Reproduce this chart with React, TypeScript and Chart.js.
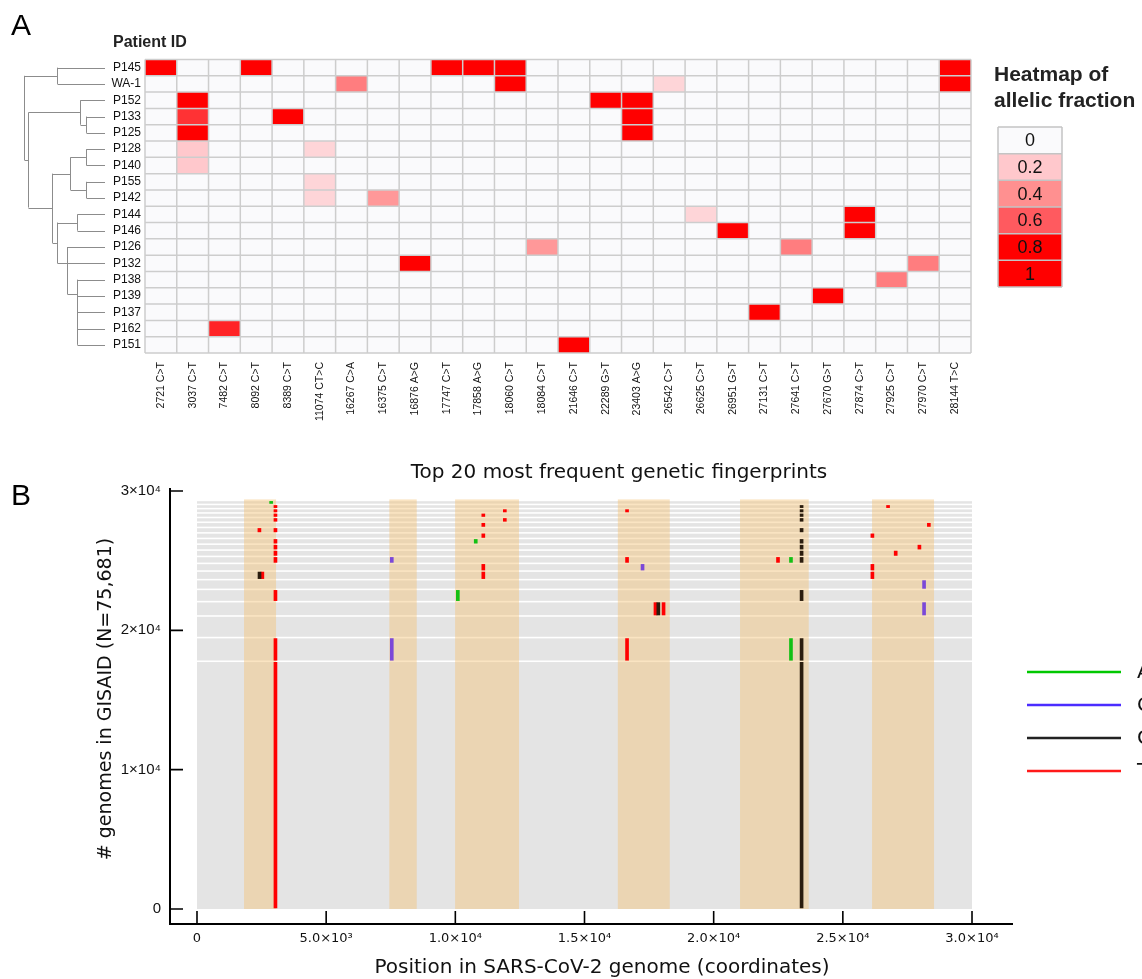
import React, { useEffect, useRef } from 'react';
import { Chart, registerables } from 'chart.js';

Chart.register(...registerables);

// ---------------- Panel A data ----------------
const patients = ['P145', 'WA-1', 'P152', 'P133', 'P125', 'P128', 'P140', 'P155', 'P142', 'P144', 'P146', 'P126', 'P132', 'P138', 'P139', 'P137', 'P162', 'P151'];
const mutations = ['2721 C>T', '3037 C>T', '7482 C>T', '8092 C>T', '8389 C>T', '11074 CT>C', '16267 C>A', '16375 C>T', '16876 A>G', '17747 C>T', '17858 A>G', '18060 C>T', '18084 C>T', '21646 C>T', '22289 G>T', '23403 A>G', '26542 C>T', '26625 C>T', '26951 G>T', '27131 C>T', '27641 C>T', '27670 G>T', '27874 C>T', '27925 C>T', '27970 C>T', '28144 T>C'];

// [patient, mutation, allelic fraction]
const allelicFractions: [string, string, number][] = [
  ['P145', '2721 C>T', 1], ['P145', '8092 C>T', 1], ['P145', '17747 C>T', 1], ['P145', '17858 A>G', 1], ['P145', '18060 C>T', 1], ['P145', '28144 T>C', 1],
  ['WA-1', '16267 C>A', 0.47], ['WA-1', '18060 C>T', 1], ['WA-1', '26542 C>T', 0.15], ['WA-1', '28144 T>C', 1],
  ['P152', '3037 C>T', 1], ['P152', '22289 G>T', 1], ['P152', '23403 A>G', 1],
  ['P133', '3037 C>T', 0.69], ['P133', '8389 C>T', 1], ['P133', '23403 A>G', 1],
  ['P125', '3037 C>T', 1], ['P125', '23403 A>G', 1],
  ['P128', '3037 C>T', 0.2], ['P128', '11074 CT>C', 0.15],
  ['P140', '3037 C>T', 0.2],
  ['P155', '11074 CT>C', 0.15],
  ['P142', '11074 CT>C', 0.15], ['P142', '16375 C>T', 0.37],
  ['P144', '26625 C>T', 0.15], ['P144', '27874 C>T', 1],
  ['P146', '26951 G>T', 1], ['P146', '27874 C>T', 1],
  ['P126', '18084 C>T', 0.37], ['P126', '27641 C>T', 0.47],
  ['P132', '16876 A>G', 1], ['P132', '27970 C>T', 0.47],
  ['P138', '27925 C>T', 0.47],
  ['P139', '27670 G>T', 1],
  ['P137', '27131 C>T', 1],
  ['P162', '7482 C>T', 0.72],
  ['P151', '21646 C>T', 1],
];

const legendValues = [0, 0.2, 0.4, 0.6, 0.8, 1];
const legendLabels = ['0', '0.2', '0.4', '0.6', '0.8', '1'];
const legendColors = ['#fafafc', '#ffc8cc', '#ff9090', '#ff5a5f', '#ff0000', '#ff0000'];

// dendrogram: vertical links [height, fromRow, toRow]; horizontal links [row, fromHeight, toHeight]
const dendroVertical: [number, number, number][] = [
  [0.593, 0, 1], [1.0, 0.5, 5.67], [0.95, 2.75, 8.58], [0.235, 3, 4], [0.309, 2, 3.5],
  [0.654, 6.5, 10.75], [0.235, 5, 6], [0.235, 7, 8], [0.432, 5.5, 7.5], [0.346, 9, 10],
  [0.593, 9.5, 12], [0.469, 11, 13.9], [0.346, 13, 17],
];
const dendroHorizontal: [number, number, number][] = [
  [0, 0, 0.593], [1, 0, 0.593], [2, 0, 0.309], [3, 0, 0.235], [4, 0, 0.235], [5, 0, 0.235],
  [6, 0, 0.235], [7, 0, 0.235], [8, 0, 0.235], [9, 0, 0.346], [10, 0, 0.346], [11, 0, 0.469],
  [12, 0, 0.593], [13, 0, 0.346], [14, 0, 0.346], [15, 0, 0.346], [16, 0, 0.346], [17, 0, 0.346],
  [0.5, 0.593, 1.0], [5.67, 0.95, 1.0], [2.75, 0.309, 0.95], [3.5, 0.235, 0.309], [8.58, 0.654, 0.95],
  [6.5, 0.432, 0.654], [5.5, 0.235, 0.432], [7.5, 0.235, 0.432], [10.75, 0.593, 0.654],
  [9.5, 0.346, 0.593], [13.9, 0.346, 0.469],
];

// ---------------- Panel B data ----------------
// genomes per fingerprint, most frequent first (stacked from the bottom)
const fingerprintCounts = [17780, 1700, 1550, 1030, 880, 700, 615, 550, 500, 455, 425, 410, 400, 390, 370, 345, 325, 310, 300, 290];
// mutations per fingerprint: position + new base
const fingerprintMutations: string[][] = [
  ['3037T', '23403G'],
  ['3037T', '7540C', '16647T', '22992A', '23403G'],
  [],
  ['17747T', '17858G', '18060T', '28144C'],
  ['3037T', '10097A', '23403G'],
  ['28144C'],
  ['2420G', '2530T', '11083T', '26144T'],
  ['11083T', '17247C', '26144T'],
  ['3037T', '7540C', '16647T', '22490T', '22992A', '23403G'],
  ['3037T', '23403G', '27046T'],
  ['3037T', '23403G', '27964T'],
  ['3037T', '10790A', '23403G'],
  ['11083T', '26144T'],
  ['2416T', '3037T', '23403G'],
  ['11083T', '28330T'],
  ['3037T', '11916T', '23403G'],
  ['3037T', '11083T', '23403G'],
  ['3037T', '11916T', '16647T', '23403G'],
  ['3037T', '23403G', '26750T'],
  ['2870A'],
];
const geneRegions: [number, number][] = [[1820, 3060], [7445, 8505], [9990, 12465], [16290, 18300], [21020, 23680], [26130, 28530]];
const baseNames = ['A', 'C', 'G', 'T'];
const baseColors = ['#14c014', '#7b48d8', '#2b1d0e', '#ff0000'];
const legendLineColors = ['#00c800', '#4b2cff', '#222222', '#ff1a1a'];
const xTickValues = [0, 5000, 10000, 15000, 20000, 25000, 30000];
const xTickLabels = ['0', '5.0×10³', '1.0×10⁴', '1.5×10⁴', '2.0×10⁴', '2.5×10⁴', '3.0×10⁴'];
const yTickValues = [0, 10000, 20000, 30000];
const yTickLabels = ['0', '1×10⁴', '2×10⁴', '3×10⁴'];

// ---------------- helpers ----------------
const SANS = '"Liberation Sans", Arial, Helvetica, sans-serif';
const DEJAVU = '"DejaVu Sans", "Liberation Sans", sans-serif';

function hexToRgb(hex: string): number[] {
  const n = parseInt(hex.slice(1), 16);
  return [(n >> 16) & 255, (n >> 8) & 255, n & 255];
}
function fractionColor(v: number): string {
  for (let k = 1; k < legendValues.length; k++) {
    if (v <= legendValues[k]) {
      const t = (v - legendValues[k - 1]) / (legendValues[k] - legendValues[k - 1]);
      const a = hexToRgb(legendColors[k - 1]);
      const b = hexToRgb(legendColors[k]);
      return `rgb(${a.map((c, i) => Math.round(c + (b[i] - c) * t)).join(',')})`;
    }
  }
  return legendColors[legendColors.length - 1];
}

function buildMarks(base: string) {
  const pad = 72; // keeps each mark inside its fingerprint band
  const out: { x: number; y: [number, number] }[] = [];
  let cum = 0;
  fingerprintCounts.forEach((count, i) => {
    fingerprintMutations[i].forEach((m) => {
      if (m.slice(-1) === base) {
        out.push({ x: parseInt(m, 10), y: [cum + pad, cum + count - pad] });
      }
    });
    cum += count;
  });
  return out;
}

// ---------------- plugins ----------------
const heatPlugin = {
  id: 'heatPlugin',
  beforeDatasetsDraw(chart: any) {
    const { ctx, scales } = chart;
    const x = scales.x;
    const y = scales.y;
    const cw = x.getPixelForValue(1) - x.getPixelForValue(0);
    const rh = y.getPixelForValue(1) - y.getPixelForValue(0);
    const left = x.getPixelForValue(0) - cw / 2;
    const top = y.getPixelForValue(0) - rh / 2;
    const W = cw * mutations.length;
    const H = rh * patients.length;
    ctx.save();
    ctx.fillStyle = legendColors[0];
    ctx.fillRect(left, top, W, H);
    allelicFractions.forEach(([p, m, v]) => {
      const cx = x.getPixelForValue(mutations.indexOf(m));
      const cy = y.getPixelForValue(patients.indexOf(p));
      ctx.fillStyle = fractionColor(v);
      ctx.fillRect(cx - cw / 2, cy - rh / 2, cw, rh);
    });
    ctx.strokeStyle = '#cdcdcd';
    ctx.lineWidth = 1.5;
    ctx.beginPath();
    for (let i = 0; i <= mutations.length; i++) {
      const px = left + i * cw;
      ctx.moveTo(px, top);
      ctx.lineTo(px, top + H);
    }
    for (let j = 0; j <= patients.length; j++) {
      const py = top + j * rh;
      ctx.moveTo(left, py);
      ctx.lineTo(left + W, py);
    }
    ctx.stroke();

    // dendrogram
    const hx = (h: number) => 105 - h * 81;
    ctx.strokeStyle = '#8c8c8c';
    ctx.lineWidth = 1;
    ctx.beginPath();
    dendroVertical.forEach(([h, r0, r1]) => {
      const px = Math.round(hx(h)) + 0.5;
      ctx.moveTo(px, y.getPixelForValue(r0));
      ctx.lineTo(px, y.getPixelForValue(r1));
    });
    dendroHorizontal.forEach(([r, h0, h1]) => {
      const py = Math.round(y.getPixelForValue(r)) + 0.5;
      ctx.moveTo(hx(h0), py);
      ctx.lineTo(Math.round(hx(h1)) + 0.5, py);
    });
    ctx.stroke();
    ctx.restore();
  },
  afterDraw(chart: any) {
    const { ctx } = chart;
    ctx.save();
    ctx.fillStyle = '#000';
    ctx.textBaseline = 'alphabetic';
    ctx.textAlign = 'left';
    ctx.font = `30px ${SANS}`;
    ctx.fillText('A', 11, 35);
    ctx.fillStyle = '#222';
    ctx.font = `bold 16px ${SANS}`;
    ctx.fillText('Patient ID', 113, 46.5);
    ctx.font = `bold 21px ${SANS}`;
    ctx.fillText('Heatmap of', 994, 81);
    ctx.fillText('allelic fraction', 994, 107);
    // colour legend
    const lx = 998, lw = 64, ly = 127, lh = 26.67;
    legendLabels.forEach((lab, k) => {
      ctx.fillStyle = legendColors[k];
      ctx.fillRect(lx, ly + k * lh, lw, lh);
    });
    ctx.strokeStyle = '#c4c4c4';
    ctx.lineWidth = 1.5;
    ctx.beginPath();
    for (let k = 0; k <= legendLabels.length; k++) {
      ctx.moveTo(lx, ly + k * lh);
      ctx.lineTo(lx + lw, ly + k * lh);
    }
    ctx.moveTo(lx, ly);
    ctx.lineTo(lx, ly + lh * legendLabels.length);
    ctx.moveTo(lx + lw, ly);
    ctx.lineTo(lx + lw, ly + lh * legendLabels.length);
    ctx.stroke();
    ctx.fillStyle = '#111';
    ctx.font = `18px ${SANS}`;
    ctx.textAlign = 'center';
    ctx.textBaseline = 'middle';
    legendLabels.forEach((lab, k) => {
      ctx.fillText(lab, lx + lw / 2, ly + k * lh + lh / 2 + 1);
    });
    ctx.restore();
  },
};

const fingerprintPlugin = {
  id: 'fingerprintPlugin',
  beforeDatasetsDraw(chart: any) {
    const { ctx, scales } = chart;
    const x = scales.x;
    const y = scales.y;
    const xl = x.getPixelForValue(0);
    const xr = x.getPixelForValue(30000);
    ctx.save();
    let cum = 0;
    fingerprintCounts.forEach((c, i) => {
      const yb = y.getPixelForValue(cum);
      const yt = y.getPixelForValue(cum + c);
      const top = yt + 0.8;
      const bottom = i === 0 ? yb : yb - 0.8;
      ctx.fillStyle = '#e4e4e4';
      ctx.fillRect(xl, top, xr - xl, bottom - top);
      cum += c;
    });
    const yTop = y.getPixelForValue(cum) - 1;
    const y0 = y.getPixelForValue(0);
    ctx.fillStyle = 'rgba(245,195,120,0.45)';
    geneRegions.forEach(([a, b]) => {
      const p = x.getPixelForValue(a);
      const q = x.getPixelForValue(b);
      ctx.fillRect(p, yTop, q - p, y0 - yTop);
    });
    ctx.restore();
  },
  afterDraw(chart: any) {
    const { ctx, scales } = chart;
    const x = scales.x;
    const y = scales.y;
    const area = chart.chartArea;
    ctx.save();
    // inward tick marks
    ctx.strokeStyle = '#000';
    ctx.lineWidth = 1.6;
    ctx.beginPath();
    yTickValues.forEach((v) => {
      const py = y.getPixelForValue(v);
      ctx.moveTo(area.left, py);
      ctx.lineTo(area.left + 13, py);
    });
    xTickValues.forEach((v) => {
      const px = x.getPixelForValue(v);
      ctx.moveTo(px, area.bottom);
      ctx.lineTo(px, area.bottom - 13);
    });
    ctx.stroke();

    ctx.fillStyle = '#000';
    ctx.textAlign = 'left';
    ctx.textBaseline = 'alphabetic';
    ctx.font = `30px ${SANS}`;
    ctx.fillText('B', 11, 65);

    ctx.fillStyle = '#111';
    ctx.font = `20px ${DEJAVU}`;
    ctx.textAlign = 'center';
    ctx.fillText('Top 20 most frequent genetic fingerprints', 619, 38);

    ctx.font = `20px ${DEJAVU}`;
    ctx.textBaseline = 'middle';
    ctx.fillText('Position in SARS-CoV-2 genome (coordinates)', 602, 528);
    ctx.save();
    ctx.translate(106, 259);
    ctx.rotate(-Math.PI / 2);
    ctx.font = `19px ${DEJAVU}`;
    ctx.fillText('# genomes in GISAID (N=75,681)', 0, 0);
    ctx.restore();

    // legend
    const ly = [232, 265, 298, 331];
    baseNames.forEach((b, k) => {
      ctx.strokeStyle = legendLineColors[k];
      ctx.lineWidth = 2.5;
      ctx.beginPath();
      ctx.moveTo(1027, ly[k]);
      ctx.lineTo(1121, ly[k]);
      ctx.stroke();
      ctx.fillStyle = '#111';
      ctx.font = `20px ${DEJAVU}`;
      ctx.textAlign = 'left';
      ctx.textBaseline = 'middle';
      ctx.fillText(b, 1137, ly[k] + 1);
    });
    ctx.restore();
  },
};

export default function App() {
  const refA = useRef<HTMLCanvasElement>(null);
  const refB = useRef<HTMLCanvasElement>(null);

  useEffect(() => {
    if (!refA.current || !refB.current) return;
    const chartA = new Chart(refA.current, {
      type: 'scatter',
      data: { datasets: [{ data: [] }] },
      options: {
        animation: false,
        responsive: false,
        devicePixelRatio: 1,
        layout: { padding: { top: 59.5, right: 171, left: 0, bottom: 0 } },
        plugins: { legend: { display: false }, tooltip: { enabled: false } },
        scales: {
          x: {
            type: 'category',
            labels: mutations,
            offset: true,
            position: 'bottom',
            grid: { display: false, drawTicks: false },
            border: { display: false },
            ticks: {
              autoSkip: false,
              minRotation: 90,
              maxRotation: 90,
              padding: 9,
              color: '#111',
              font: { family: SANS, size: 10.5 },
            },
            afterFit: (s: any) => { s.height = 87; },
          },
          y: {
            type: 'category',
            labels: patients,
            offset: true,
            position: 'left',
            grid: { display: false, drawTicks: false },
            border: { display: false },
            ticks: {
              autoSkip: false,
              padding: 4,
              color: '#111',
              font: { family: SANS, size: 12 },
            },
            afterFit: (s: any) => { s.width = 145; },
          },
        },
      } as any,
      plugins: [heatPlugin],
    });

    const chartB = new Chart(refB.current, {
      type: 'bar',
      data: {
        datasets: baseNames.map((b, k) => ({
          label: b,
          data: buildMarks(b) as any,
          backgroundColor: baseColors[k],
          borderWidth: 0,
          barThickness: 3,
          stack: 'marks',
        })),
      },
      options: {
        animation: false,
        responsive: false,
        devicePixelRatio: 1,
        layout: { padding: { top: 49, right: 130, left: 0, bottom: 0 } },
        plugins: { legend: { display: false }, tooltip: { enabled: false }, title: { display: false } },
        scales: {
          x: {
            type: 'linear',
            min: -1045,
            max: 31548,
            offset: false,
            stacked: true,
            grid: { display: false, drawTicks: false },
            border: { display: true, color: '#000', width: 2 },
            afterBuildTicks: (s: any) => { s.ticks = xTickValues.map((v) => ({ value: v })); },
            ticks: {
              autoSkip: false,
              maxRotation: 0,
              padding: 7,
              color: '#111',
              font: { family: DEJAVU, size: 13 },
              callback: (v: any) => {
                const i = xTickValues.indexOf(Number(v));
                return i >= 0 ? xTickLabels[i] : '';
              },
            },
            afterFit: (s: any) => { s.height = 55; },
          },
          y: {
            type: 'linear',
            min: -1077,
            max: 30144,
            stacked: false,
            grid: { display: false, drawTicks: false },
            border: { display: true, color: '#000', width: 2 },
            afterBuildTicks: (s: any) => { s.ticks = yTickValues.map((v) => ({ value: v })); },
            ticks: {
              autoSkip: false,
              padding: 9,
              color: '#111',
              font: { family: SANS, size: 15 },
              callback: (v: any) => {
                const i = yTickValues.indexOf(Number(v));
                return i >= 0 ? yTickLabels[i] : '';
              },
            },
            afterFit: (s: any) => { s.width = 170; },
          },
        },
      } as any,
      plugins: [fingerprintPlugin],
    });

    return () => {
      chartA.destroy();
      chartB.destroy();
    };
  }, []);

  return (
    <div style={{ position: 'absolute', left: 0, top: 0, width: 1142, height: 979, background: '#fff', overflow: 'hidden' }}>
      <canvas ref={refA} width={1142} height={440} style={{ position: 'absolute', left: 0, top: 0, width: 1142, height: 440 }} />
      <canvas ref={refB} width={1142} height={539} style={{ position: 'absolute', left: 0, top: 440, width: 1142, height: 539 }} />
    </div>
  );
}
